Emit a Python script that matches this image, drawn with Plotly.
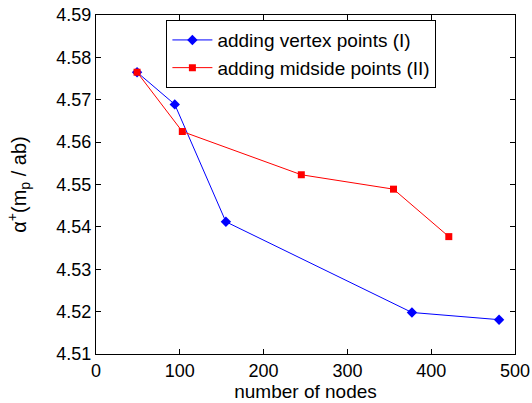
import plotly.graph_objects as go

# Convergence of alpha+ as the mesh is refined
vertex_nodes = [49, 94, 155, 377, 481]
vertex_alpha = [4.5765, 4.5689, 4.5412, 4.5198, 4.5181]

midside_nodes = [49, 103, 245, 355, 421]
midside_alpha = [4.5765, 4.5625, 4.5523, 4.5489, 4.5377]

x_ticks = [0, 100, 200, 300, 400, 500]
y_ticks = [4.51, 4.52, 4.53, 4.54, 4.55, 4.56, 4.57, 4.58, 4.59]

FONT = "Liberation Sans, Arial, Helvetica, sans-serif"

fig = go.Figure()
fig.add_trace(go.Scatter(
    x=vertex_nodes, y=vertex_alpha, mode="lines+markers",
    name="adding vertex points (I)",
    line=dict(color="#0000FF", width=1),
    marker=dict(symbol="diamond", size=8, color="#0000FF"),
))
fig.add_trace(go.Scatter(
    x=midside_nodes, y=midside_alpha, mode="lines+markers",
    name="adding midside points (II)",
    line=dict(color="#FF0000", width=1),
    marker=dict(symbol="square", size=7, color="#FF0000"),
))

axis_common = dict(
    showgrid=False, zeroline=False, showline=True, linecolor="black",
    linewidth=1, mirror="ticks", ticks="inside", ticklen=5,
    tickcolor="black", tickfont=dict(family=FONT, size=18, color="black"),
    automargin=False,
)

fig.update_layout(
    width=532, height=403,
    margin=dict(l=96, r=17, t=15, b=49),
    paper_bgcolor="white", plot_bgcolor="white",
    font=dict(family=FONT, color="black"),
    xaxis=dict(range=[0, 500], tickvals=x_ticks,
               title=dict(text="number of nodes", font=dict(size=19), standoff=4),
               **axis_common),
    yaxis=dict(range=[4.51, 4.59], tickvals=y_ticks,
               ticktext=[f"{v:.2f}" for v in y_ticks],
               title=dict(text="α<sup>+</sup>(m<sub>p</sub> / ab)",
                          font=dict(size=20), standoff=24),
               **axis_common),
    legend=dict(x=0.168, y=0.985, xanchor="left", yanchor="top",
                bgcolor="white", bordercolor="black", borderwidth=1,
                font=dict(family=FONT, size=19), tracegroupgap=0,
                itemwidth=40),
    showlegend=True,
)

fig.write_html("out.html")
